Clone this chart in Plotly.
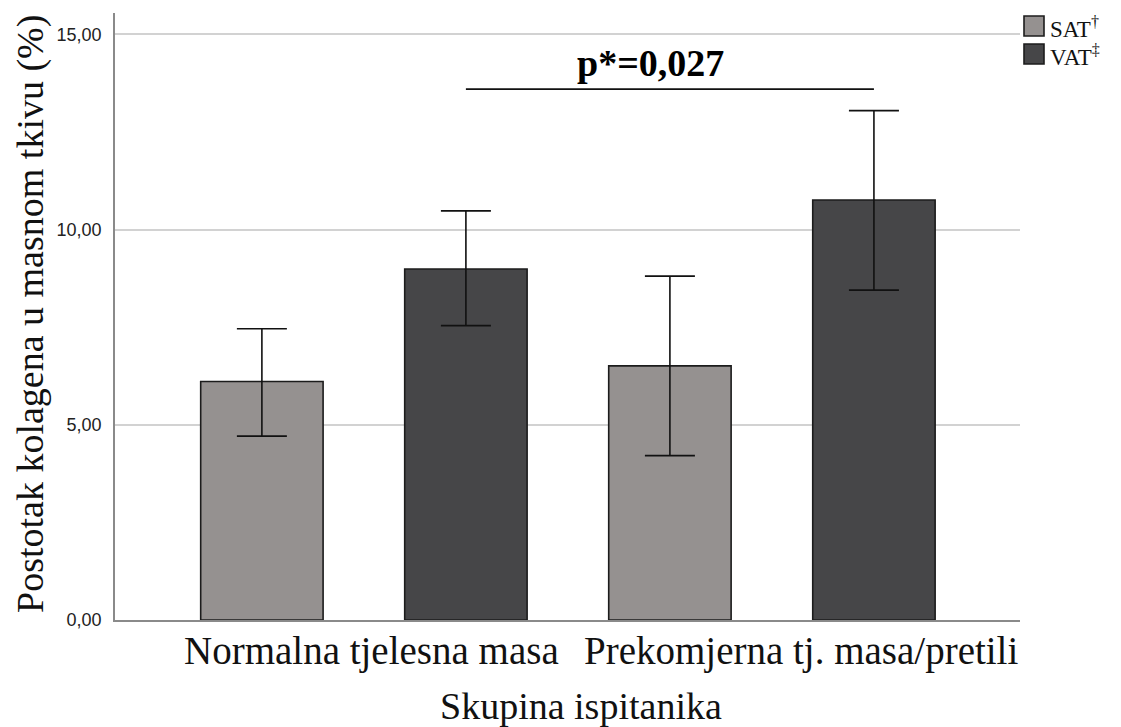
import plotly.graph_objects as go

# ---- data ----
groups = ["Normalna tjelesna masa", "Prekomjerna tj. masa/pretili"]
series = ["SAT", "VAT"]
sat_mean = [6.11, 6.51]
sat_upper = [7.46, 8.81]
sat_lower = [4.71, 4.21]
vat_mean = [8.99, 10.76]
vat_upper = [10.48, 13.05]
vat_lower = [7.54, 8.45]
y_ticks = [0, 5, 10, 15]
y_title = "Postotak kolagena u masnom tkivu (%)"
x_title = "Skupina ispitanika"
p_text = "p*=0,027"
bracket_y = 13.6
legend_labels = ["SAT<sup>†</sup>", "VAT<sup>‡</sup>"]

# ---- styles ----
sat_color = "#959190"
vat_color = "#464648"
edge = "#1c1c1c"
serif = "'Liberation Serif', 'Times New Roman', serif"
sans = "'Liberation Sans', Arial, sans-serif"

OFF = 8  # page body margin of the html page
W, H = 1121 - OFF, 727 - OFF
L, R, T, B = 115 - OFF, 101, 13 - OFF, 107
pw, ph = W - L - R, H - T - B
# page-pixel helpers (reference coordinates)
def px_x(x):
    return (x - 115) / pw
def px_y(y):
    return (620 - y) / ph

fig = go.Figure()
for name, mean, up, lo, col in [
    ("SAT", sat_mean, sat_upper, sat_lower, sat_color),
    ("VAT", vat_mean, vat_upper, vat_lower, vat_color),
]:
    fig.add_trace(go.Bar(
        name=name, x=groups, y=mean,
        marker=dict(color=col, line=dict(color=edge, width=1.6)),
        error_y=dict(type="data", symmetric=False,
                     array=[u - m for u, m in zip(up, mean)],
                     arrayminus=[m - l for m, l in zip(mean, lo)],
                     color="#111111", thickness=1.6, width=25),
        showlegend=False,
    ))

# significance bracket between VAT bars (category index + 0.25 offset)
fig.add_shape(type="line", xref="x", yref="y",
              x0=0.25, x1=1.25, y0=bracket_y, y1=bracket_y,
              line=dict(color="#111111", width=1.6))
fig.add_annotation(x=0.75, y=bracket_y, xref="x", yref="y", text="<b>" + p_text + "</b>",
                   showarrow=False, xanchor="center", yanchor="bottom", xshift=-19, yshift=3,
                   font=dict(family=serif, size=38, color="#000000"))

# x category labels
label_shift = [8, 29]
for g, s in zip(groups, label_shift):
    fig.add_annotation(x=g, y=0, xref="x", yref="paper", text=g, showarrow=False,
                       xanchor="center", yanchor="top", xshift=s, yshift=-7,
                       font=dict(family=serif, size=39, color="#111111"))

# axis titles
fig.add_annotation(x=px_x(581), y=0, xref="paper", yref="paper", text=x_title,
                   showarrow=False, xanchor="center", yanchor="top", yshift=-63,
                   font=dict(family=serif, size=38, color="#111111"))
fig.add_annotation(x=px_x(30), y=px_y(314), xref="paper", yref="paper",
                   text=y_title, textangle=-90, showarrow=False,
                   xanchor="center", yanchor="middle",
                   font=dict(family=serif, size=38, color="#111111"))

# custom legend
legend_rows = [(16, 36), (44, 64)]
for (t, b), col, lab in zip(legend_rows, [sat_color, vat_color], legend_labels):
    fig.add_shape(type="rect", xref="paper", yref="paper",
                  x0=px_x(1024), x1=px_x(1044), y0=px_y(b), y1=px_y(t),
                  fillcolor=col, line=dict(color=edge, width=1.6))
    fig.add_annotation(x=px_x(1048), y=px_y((t + b) / 2 + 1), xref="paper", yref="paper",
                       text=lab, showarrow=False, xanchor="left", yanchor="middle",
                       font=dict(family=serif, size=23, color="#111111"))

fig.update_layout(
    width=W, height=H,
    margin=dict(l=L, r=R, t=T, b=B, autoexpand=False),
    paper_bgcolor="white", plot_bgcolor="white",
    barmode="group", bargap=0, bargroupgap=0.4,
    separators=",.",
    showlegend=False,
    xaxis=dict(type="category", range=[-0.61, 1.608], showticklabels=False,
               showgrid=False, zeroline=False, showline=True, linecolor="#8a8a8a",
               linewidth=1.6, ticks=""),
    yaxis=dict(range=[0, 15.55], tickvals=y_ticks, tickformat=".2f",
               showgrid=True, gridcolor="#d2d2d2", gridwidth=1.6,
               zeroline=False, showline=True, linecolor="#8a8a8a", linewidth=1.6,
               ticks="", ticklabelstandoff=8,
               tickfont=dict(family=sans, size=18, color="#222222")),
)

fig.write_html("out.html")
